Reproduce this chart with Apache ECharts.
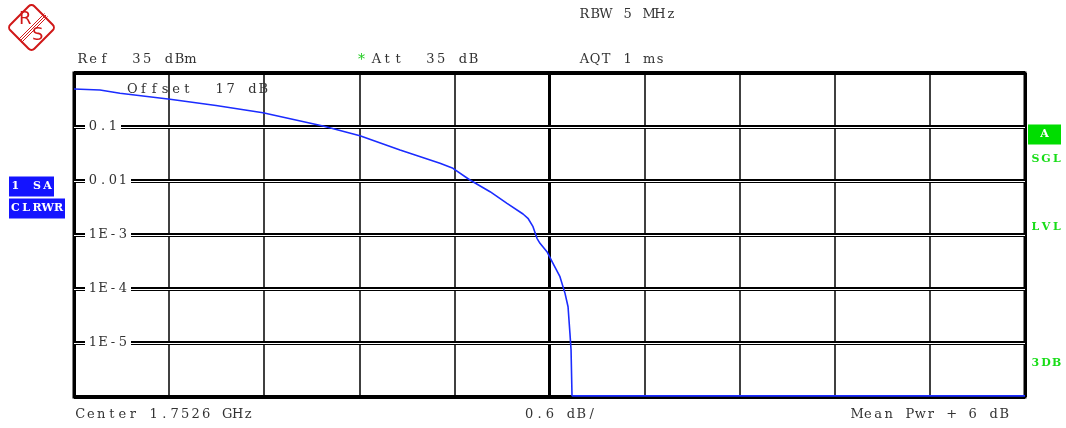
<!DOCTYPE html>
<html>
<head>
<meta charset="utf-8">
<script src="https://cdn.jsdelivr.net/npm/echarts@6/dist/echarts.min.js"></script>
<style>
  html, body { margin: 0; padding: 0; background: #fff; }
  #chart { width: 1066px; height: 428px; }
</style>
</head>
<body>
<div id="chart"></div>
<script>
// ---- data (CCDF trace) ----
const dbValues   = [0, 0.164, 0.290, 0.606, 0.896, 1.192, 1.571, 1.804, 2.057, 2.309, 2.391, 2.498, 2.625, 2.732, 2.833, 2.864, 2.896, 2.921, 2.940, 2.984, 3.022, 3.066, 3.098, 3.117, 3.129, 3.136, 3.142, 6.0];
const probValues = [0.506, 0.484, 0.421, 0.326, 0.250, 0.184, 0.1044, 0.0690, 0.0375, 0.0213, 0.01718, 0.01044, 0.00634, 0.00386, 0.00245, 0.00204, 0.001425, 0.000869, 0.000702, 0.000491, 0.000299, 0.000169, 0.000083, 0.000047, 0.0000151, 0.0000074, 0.00000105, 0.00000105];

// ---- axis ticks ----
const yTickValues = [0.1, 0.01, 0.001, 0.0001, 0.00001];
const yTickLabels = ['0.1', '0.01', '1E-3', '1E-4', '1E-5'];
const xMin = 0, xMax = 6, xStep = 0.6, xCenterStep = 3;
const yMin = 1e-6, yMax = 1;

const FONT = 'DejaVu Serif';
const TXT = '#333';

function spaced(str, key) {
  return str.split('').map(ch => '{' + key + '|' + (ch === ' ' ? '\u00a0' : ch) + '}').join('');
}
function token(w, extra) {
  return Object.assign({ width: w, align: 'center', fontFamily: FONT, fontSize: 13, fontWeight: 'normal', color: TXT, lineHeight: 14 }, extra || {});
}
function label(str, left, cy, w, extra) {
  return {
    text: spaced(str, 'c'), left: left, top: cy - 7, padding: 0,
    textStyle: { fontWeight: 'normal', rich: { c: token(w, extra) } }
  };
}
function badge(str, left, top, w, h, bg, fg) {
  return {
    text: spaced(str, 'c'), left: left, top: top, padding: [(h - 12) / 2, 1, (h - 12) / 2, 1],
    backgroundColor: bg,
    textStyle: { rich: { c: token(w, { color: fg, fontWeight: 'bold', fontSize: 11, lineHeight: 12 }) } }
  };
}
function greenText(str, left, cy) {
  return {
    text: spaced(str, 'c'), left: left, top: cy - 6, padding: 0,
    textStyle: { rich: { c: token(10.7, { color: '#19dd19', fontWeight: 'bold', fontSize: 11, lineHeight: 12 }) } }
  };
}

const seriesData = dbValues.map((d, i) => [d, probValues[i]]);

const chart = echarts.init(document.getElementById('chart'), null, { renderer: 'canvas' });

const logCommon = { type: 'log', logBase: 10, min: yMin, max: yMax, gridIndex: 0, position: 'left',
  axisLine: { show: false }, axisTick: { show: false } };

chart.setOption({
  animation: false,
  backgroundColor: '#fff',
  title: [
    label('RBW 5 MHz', 579, 15, 10.8),
    label('Ref  35 dBm', 77, 60, 10.8),
    label('*', 356, 60, 10.8, { color: '#22cc22', fontSize: 14 }),
    label('Att  35 dB', 371, 60, 10.8),
    label('AQT 1 ms', 579, 60, 10.8),
    label('Offset  17 dB', 127, 90, 10.9),
    label('Center 1.7526 GHz', 75, 415, 10.5),
    label('0.6 dB/', 524, 415, 10.4),
    label('Mean Pwr + 6 dB', 852, 415, 10.5),
    badge('1 SA', 9, 176, 10.75, 21, '#1414ff', '#fff'),
    badge('CLRWR', 9, 198, 10.8, 21, '#1414ff', '#fff'),
    badge('A', 1028, 124, 31, 21, '#00dd00', '#fff'),
    greenText('SGL', 1030, 159),
    greenText('LVL', 1030, 227),
    greenText('3DB', 1030, 363)
  ],
  graphic: [
    { type: 'rect', x: 31.5, y: 27.5, rotation: Math.PI / 4,
      shape: { x: -17, y: -17, width: 34, height: 34, r: 4 },
      style: { fill: 'none', stroke: '#d01818', lineWidth: 2 } },
    { type: 'line', shape: { x1: 44.5, y1: 13.5, x2: 18.5, y2: 39.5 }, style: { stroke: '#d01818', lineWidth: 1 } },
    { type: 'line', shape: { x1: 46, y1: 15, x2: 20, y2: 41 }, style: { stroke: '#d01818', lineWidth: 1 } },
    { type: 'line', shape: { x1: 47.5, y1: 16.5, x2: 21.5, y2: 42.5 }, style: { stroke: '#d01818', lineWidth: 1 } },
    { type: 'text', x: 19, y: 10, style: { text: 'R', fill: '#d01818', font: '18px "DejaVu Sans"' } },
    { type: 'text', x: 32, y: 26, style: { text: 'S', fill: '#d01818', font: '18px "DejaVu Sans"' } }
  ],
  grid: { left: 74, right: 41, top: 73, bottom: 31, show: true, borderColor: '#000', borderWidth: 3, backgroundColor: 'transparent' },
  xAxis: [
    { type: 'value', min: xMin, max: xMax, interval: xStep, gridIndex: 0,
      axisLine: { show: false }, axisTick: { show: false }, axisLabel: { show: false },
      splitLine: { show: true, lineStyle: { color: '#000', width: 1.5 } } },
    { type: 'value', min: xMin, max: xMax, interval: xCenterStep, gridIndex: 0, position: 'top',
      axisLine: { show: false }, axisTick: { show: false }, axisLabel: { show: false },
      splitLine: { show: true, lineStyle: { color: '#000', width: 3 } } }
  ],
  yAxis: [
    Object.assign({}, logCommon, { z: 0, axisLabel: { show: false },
      splitLine: { show: true, lineStyle: { color: '#000', width: 4 } } }),
    Object.assign({}, logCommon, { z: 1, axisLabel: { show: false },
      splitLine: { show: true, showMinLine: false, showMaxLine: false, lineStyle: { color: '#fff', width: 1.2 } } }),
    Object.assign({}, logCommon, { z: 2, splitLine: { show: false },
      axisLabel: {
        show: true, inside: true, margin: 11,
        formatter: function (v) {
          const i = yTickValues.findIndex(t => Math.abs(Math.log10(t) - Math.log10(v)) < 1e-6);
          if (i < 0) return '';
          return '{p|\u00a0}' + spaced(yTickLabels[i], 'c') + '{p|\u00a0}';
        },
        rich: {
          c: { width: 10, align: 'center', fontFamily: FONT, fontSize: 13, color: TXT, lineHeight: 12, backgroundColor: '#fff' },
          p: { width: 3, lineHeight: 12, fontSize: 13, backgroundColor: '#fff' }
        }
      } })
  ],
  series: [{
    type: 'line',
    data: seriesData,
    xAxisIndex: 0, yAxisIndex: 0,
    showSymbol: false,
    z: 5,
    lineStyle: { color: '#1b2cff', width: 1.6 },
    clip: true
  }]
});
</script>
</body>
</html>
